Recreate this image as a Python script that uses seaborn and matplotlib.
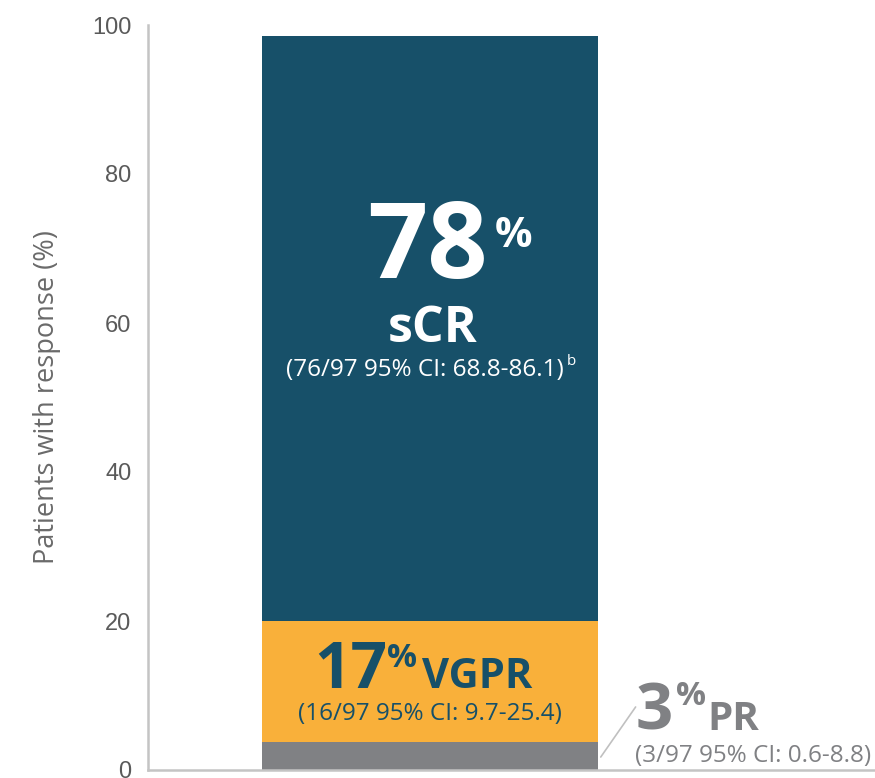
import pandas as pd
import matplotlib.pyplot as plt
import seaborn as sns

# --------------------------------------------
# Data: best overall response (n = 97)
# --------------------------------------------
responses = ["PR", "VGPR", "sCR"]
percents = [3.8, 16.2, 78.5]          # segment heights as drawn
pct_labels = ["3", "17", "78"]        # printed (rounded) values
counts = ["3/97", "16/97", "76/97"]
ci_labels = ["0.6-8.8", "9.7-25.4", "68.8-86.1"]
colors = ["#808184", "#f9b03a", "#175069"]
y_ticks = [0, 20, 40, 60, 80, 100]

# cumulative tops, drawn tallest first so the stack shows through
df = pd.DataFrame({"group": ["All"] * 3, "resp": responses, "pct": percents})
df["top"] = df["pct"].cumsum()

sns.set_style("white")
plt.rcParams["font.family"] = ["Open Sans", "DejaVu Sans"]

fig = plt.figure(figsize=(8.75, 7.78), dpi=100)
ax = fig.add_axes([148 / 875, 8 / 778, 727 / 875, 745 / 778])

for i in reversed(range(len(df))):
    sns.barplot(x=df["group"].iloc[[i]], y=df["top"].iloc[[i]], color=colors[i],
                saturation=1, width=0.8, linewidth=0, ax=ax)

ax.set_xlim(-0.671, 1.06)
ax.set_ylim(0, 100)
ax.set_yticks(y_ticks)
ax.set_yticklabels([str(t) for t in y_ticks], family=["Liberation Sans", "DejaVu Sans"],
                   fontsize=17, color="#5a5a5a")
ax.set_xticks([])
ax.set_xlabel("")
ax.set_ylabel("Patients with response (%)", fontsize=19.5, color="#6a6a6a", labelpad=22)
ax.tick_params(axis="y", length=7, width=1.5, color="#c4c4c4", pad=5)
for s in ["top", "right"]:
    ax.spines[s].set_visible(False)
for s in ["left", "bottom"]:
    ax.spines[s].set_color("#c4c4c4")
    ax.spines[s].set_linewidth(1.8)
ax.spines["bottom"].set_clip_on(False)

# --------------------------------------------
# Labels
# --------------------------------------------
white, teal, grey = "white", colors[2], colors[0]

# sCR
ax.text(-0.005, 66.0, pct_labels[2], ha="center", va="baseline",
        fontsize=76, fontweight="bold", color=white)
ax.text(0.155, 70.2, "%", ha="left", va="baseline", fontsize=30, fontweight="bold", color=white)
ax.text(0.007, 57.5, responses[2], ha="center", va="baseline", fontsize=36, fontweight="bold", color=white)
ax.text(-0.012, 52.9, f"({counts[2]} 95% CI: {ci_labels[2]})", ha="center", va="baseline",
        fontsize=17.5, color=white)
ax.text(0.325, 54.4, "b", ha="left", va="baseline", fontsize=11, color=white)

# VGPR
ax.text(-0.188, 11.0, pct_labels[1], ha="center", va="baseline",
        fontsize=46, fontweight="bold", color=teal)
ax.text(-0.102, 13.8, "%", ha="left", va="baseline", fontsize=24, fontweight="bold", color=teal)
ax.text(-0.019, 11.0, responses[1], ha="left", va="baseline", fontsize=30, fontweight="bold", color=teal)
ax.text(0.0, 6.7, f"({counts[1]} 95% CI: {ci_labels[1]})", ha="center", va="baseline",
        fontsize=17.5, color=teal)

# PR (outside the bar, with a leader line)
ax.text(0.49, 5.4, pct_labels[0], ha="left", va="baseline",
        fontsize=47, fontweight="bold", color=grey, clip_on=False)
ax.text(0.586, 8.7, "%", ha="left", va="baseline", fontsize=24, fontweight="bold", color=grey, clip_on=False)
ax.text(0.662, 5.4, responses[0], ha="left", va="baseline", fontsize=29, fontweight="bold", color=grey,
        clip_on=False)
ax.text(0.488, 1.07, f"({counts[0]} 95% CI: {ci_labels[0]})", ha="left", va="baseline",
        fontsize=17.5, color=grey, clip_on=False)
ax.plot([0.407, 0.49], [1.74, 8.46], color="#c0c0c0", linewidth=1.2, clip_on=False)

fig.savefig("out.png", dpi=100)
